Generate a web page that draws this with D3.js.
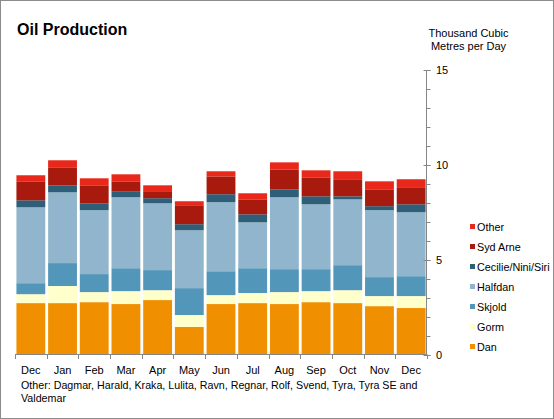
<!DOCTYPE html>
<html><head><meta charset="utf-8">
<script src="https://cdn.jsdelivr.net/npm/d3@7"></script>
<style>
html,body{margin:0;padding:0;background:#fff;}
svg{display:block;font-family:"Liberation Sans",Arial,sans-serif;}
</style></head>
<body>
<svg id="c" width="554" height="419"></svg>
<script>
const months = ["Dec","Jan","Feb","Mar","Apr","May","Jun","Jul","Aug","Sep","Oct","Nov","Dec"];
const seriesNames = ["Dan","Gorm","Skjold","Halfdan","Cecilie/Nini/Siri","Syd Arne","Other"];
const seriesColors = ["#F09000","#FFFFCC","#5297BA","#91B5CC","#2E5E78","#A81A0E","#E8281A"];
const dan      = [2.71,2.71,2.76,2.66,2.87,1.45,2.66,2.71,2.66,2.76,2.71,2.55,2.45];
const gorm     = [0.47,0.90,0.53,0.68,0.52,0.63,0.47,0.53,0.63,0.58,0.68,0.53,0.63];
const skjold   = [0.58,1.21,0.95,1.21,1.06,1.42,1.26,1.31,1.21,1.16,1.32,1.00,1.05];
const halfdan  = [4.00,3.73,3.37,3.74,3.52,3.05,3.64,2.42,3.79,3.42,3.47,3.53,3.37];
const cecilie  = [0.37,0.37,0.36,0.32,0.27,0.32,0.42,0.42,0.42,0.42,0.16,0.21,0.42];
const sydArne  = [1.00,0.95,0.95,0.52,0.37,1.00,0.94,0.79,1.05,1.00,0.90,0.89,0.90];
const other    = [0.32,0.37,0.37,0.37,0.31,0.21,0.27,0.32,0.37,0.37,0.42,0.42,0.42];
const yMajorTicks = [0,5,10,15];
const yMinorTicks = d3.range(0,16,1);
const title = "Oil Production";
const yTitle = ["Thousand Cubic","Metres per Day"];
const footnote = ["Other: Dagmar, Harald, Kraka, Lulita, Ravn, Regnar, Rolf, Svend, Tyra, Tyra SE and","Valdemar"];

const seriesValues = [dan,gorm,skjold,halfdan,cecilie,sydArne,other];
const table = months.map((m,i)=>{const o={idx:i}; seriesNames.forEach((s,j)=>o[s]=seriesValues[j][i]); return o;});
const stacked = d3.stack().keys(seriesNames)(table);

const svg = d3.select("#c");
const axisColor = "#868686";

svg.append("rect").attr("x",0.5).attr("y",0.5).attr("width",553).attr("height",418)
  .attr("fill","#fff").attr("stroke","#8c8c8c");

const x = d3.scaleBand().domain(d3.range(months.length)).range([15,427]).paddingInner(0.09).paddingOuter(0.045);
const y = d3.scaleLinear().domain([0,15]).range([354.5,70]);

// bars
svg.append("g").selectAll("g").data(stacked).join("g")
  .attr("fill",(d,i)=>seriesColors[i])
  .selectAll("rect").data(d=>d).join("rect")
  .attr("x",d=>x(d.data.idx))
  .attr("width",x.bandwidth())
  .attr("y",d=>y(d[1]))
  .attr("height",d=>y(d[0])-y(d[1]));

// x axis
const xa = svg.append("g").attr("stroke",axisColor).attr("stroke-width",1);
xa.append("line").attr("x1",15).attr("x2",427).attr("y1",354.5).attr("y2",354.5);
const step = x.step();
d3.range(months.length+1).forEach(i=>{
  const px = Math.round(15 + i*step)+0.5;
  xa.append("line").attr("x1",px).attr("x2",px).attr("y1",354.5).attr("y2",359);
});
svg.append("g").selectAll("text").data(months).join("text")
  .attr("x",(d,i)=>x(i)+x.bandwidth()/2).attr("y",374)
  .attr("text-anchor","middle").attr("font-size",11).attr("fill","#000")
  .text(d=>d);

// y axis
const ya = svg.append("g").attr("stroke",axisColor).attr("stroke-width",1);
const ax = 426.5;
ya.append("line").attr("x1",ax).attr("x2",ax).attr("y1",y(15)).attr("y2",y(0));
yMinorTicks.forEach(v=>{
  const py = Math.round(y(v))+0.5;
  ya.append("line").attr("x1",ax).attr("x2",ax+4).attr("y1",py).attr("y2",py);
});
yMajorTicks.forEach(v=>{
  const py = Math.round(y(v))+0.5;
  ya.append("line").attr("x1",ax-3).attr("x2",ax+4).attr("y1",py).attr("y2",py);
});
svg.append("g").selectAll("text").data(yMajorTicks).join("text")
  .attr("x",436).attr("y",d=>y(d)+4).attr("font-size",11).attr("fill","#000")
  .text(d=>d);

// titles
svg.append("text").attr("x",17).attr("y",35).attr("font-size",16).attr("font-weight","bold").attr("fill","#000").text(title);
svg.append("g").selectAll("text").data(yTitle).join("text")
  .attr("x",468.5).attr("y",(d,i)=>37+i*13).attr("text-anchor","middle").attr("font-size",11).attr("fill","#000")
  .text(d=>d);

// legend
const leg = svg.append("g");
const legOrder = seriesNames.slice().reverse();
legOrder.forEach((s,i)=>{
  const cy = 226.5 + i*20;
  const ci = seriesNames.indexOf(s);
  leg.append("rect").attr("x",470).attr("y",cy-2.5).attr("width",5).attr("height",5).attr("fill",seriesColors[ci]);
  leg.append("text").attr("x",477).attr("y",cy+4).attr("font-size",10.8).attr("fill","#000").text(s);
});

// footnote
svg.append("g").selectAll("text").data(footnote).join("text")
  .attr("x",21).attr("y",(d,i)=>389+i*13).attr("font-size",10.7).attr("fill","#000")
  .text(d=>d);
</script>
</body></html>
